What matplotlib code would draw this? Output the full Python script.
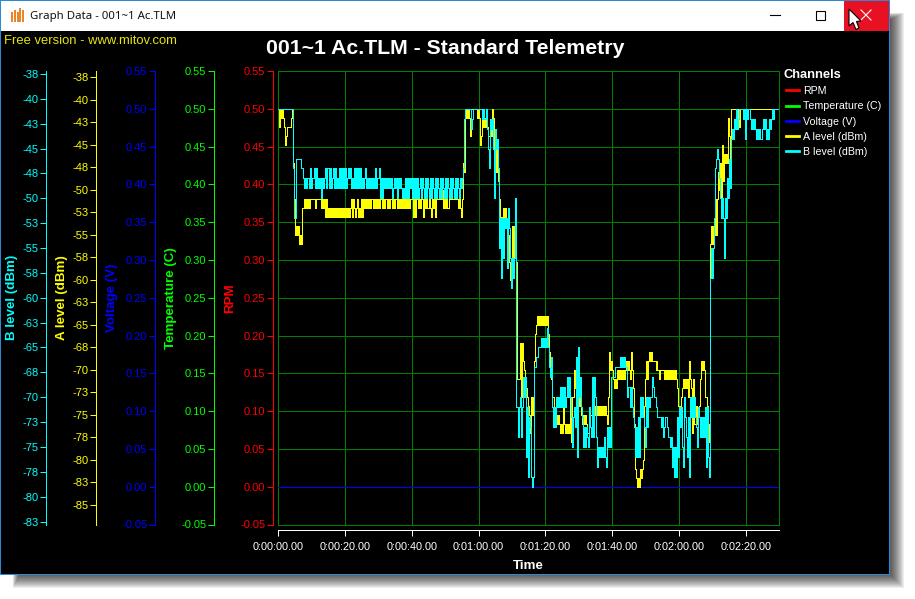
import numpy as np
import matplotlib
matplotlib.use("Agg")
import matplotlib.pyplot as plt
from matplotlib.lines import Line2D
from matplotlib.patches import Rectangle, Polygon

W, H = 915, 599
plt.rcParams['font.family'] = ['Liberation Sans', 'DejaVu Sans']
plt.rcParams['path.simplify'] = False

# ---- data -----------------------------------------------------------------
TICK_SECONDS = [0, 20, 40, 60, 80, 100, 120, 140]
TICK_TIMES = ['0:00:00.00', '0:00:20.00', '0:00:40.00', '0:01:00.00', '0:01:20.00',
              '0:01:40.00', '0:02:00.00', '0:02:20.00']
LEVEL_TICKS = [-0.05, 0.00, 0.05, 0.10, 0.15, 0.20, 0.25, 0.30, 0.35, 0.40, 0.45, 0.50, 0.55]
LEVEL_LABELS = ['-0.05', '0.00', '0.05', '0.10', '0.15', '0.20', '0.25', '0.30', '0.35',
                '0.40', '0.45', '0.50', '0.55']
A_TICKS = [-37.5, -40, -42.5, -45, -47.5, -50, -52.5, -55, -57.5, -60, -62.5, -65, -67.5,
           -70, -72.5, -75, -77.5, -80, -82.5, -85]
A_LABELS = ['-38', '-40', '-43', '-45', '-48', '-50', '-53', '-55', '-58', '-60', '-63',
            '-65', '-68', '-70', '-73', '-75', '-78', '-80', '-83', '-85']
B_TICKS = A_TICKS[:-1]
B_LABELS = A_LABELS[:-1]

FLAT_TIME = [0, 150]
RPM = [0, 0]
TEMPERATURE = [0, 0]
VOLTAGE = [0, 0]

# A level (dBm), one chunk per 15 s of recording
A_00_15 = [-41,-43,-41,-42,-41,-42,-43,-45,-44,-43,-43,-43,-43,-42,-41,-47,-51,-55,-54,-55,
           -54,-56,-55,-56,-52,-52,-51,-52,-51,-52,-51,-52,-51,-51,-51,-51,-51,-52,-51,-51,
           -51,-51,-51,-52,-51,-52,-51,-53,-51,-53]
A_15_30 = [-52,-53,-52,-53,-52,-53,-52,-53,-52,-53,-52,-53,-52,-53,-52,-53,-52,-53,-52,-53,
           -52,-53,-52,-51,-53,-51,-52,-53,-52,-51,-53,-52,-53,-51,-53,-51,-52,-51,-52,-51,
           -52,-51,-52,-51,-51,-52,-51,-52,-51,-52]
A_30_45 = [-51,-52,-51,-51,-52,-51,-52,-51,-51,-52,-51,-52,-51,-51,-52,-51,-52,-51,-51,-52,
           -51,-52,-51,-52,-51,-52,-51,-52,-51,-52,-51,-52,-51,-51,-51,-53,-51,-53,-51,-51,
           -52,-51,-52,-51,-51,-53,-51,-51,-52,-51,-52]
A_45_60 = [-52,-51,-52,-53,-51,-52,-51,-53,-51,-51,-51,-51,-51,-51,-50,-52,-51,-52,-51,-52,
           -52,-51,-51,-51,-51,-51,-51,-51,-51,-51,-52,-51,-52,-53,-51,-47,-48,-42,-41,-42,
           -41,-42,-44,-41,-41,-41,-41,-41,-41,-42,-41]
A_60_75 = [-42,-45,-44,-42,-43,-42,-43,-42,-43,-44,-44,-43,-44,-41,-42,-46,-45,-48,-45,-49,
           -51,-54,-53,-54,-52,-54,-52,-54,-58,-55,-58,-60,-60,-54,-58,-54,-57,-58,-71,-71,
           -71,-67,-73,-67,-69,-70,-71,-72,-73,-74]
A_75_90 = [-75,-77,-73,-75,-73,-69,-66,-65,-64,-65,-64,-65,-64,-65,-64,-65,-64,-65,-64,-66,
           -68,-70,-71,-73,-73,-75,-76,-75,-76,-75,-76,-77,-76,-77,-74,-76,-77,-76,-77,-76,
           -77,-73,-78,-73,-73,-70,-72,-70,-73,-69]
A_90_105 = [-74,-71,-75,-76,-75,-76,-75,-76,-77,-77,-76,-75,-75,-75,-73,-75,-74,-75,-74,-75,
            -74,-75,-74,-75,-74,-75,-74,-75,-76,-73,-68,-70,-69,-70,-71,-72,-71,-72,-70,-71,
            -70,-71,-70,-71,-70,-71,-70,-69,-70,-69]
A_105_120 = [-70,-71,-68,-70,-72,-76,-81,-82,-83,-82,-83,-81,-82,-81,-80,-74,-71,-69,-71,-69,
             -68,-69,-68,-69,-69,-69,-69,-70,-69,-70,-70,-71,-70,-70,-70,-70,-71,-70,-71,-70,
             -71,-70,-71,-70,-71,-70,-71,-70,-71,-72,-74]
A_120_135 = [-74,-74,-73,-72,-71,-72,-71,-72,-71,-73,-69,-71,-72,-77,-71,-76,-76,-74,-76,-75,
             -74,-71,-69,-70,-69,-70,-73,-73,-74,-76,-78,-56,-54,-56,-54,-55,-51,-55,-51,-48,
             -50,-47,-51,-45,-49,-46,-47,-46,-47,-42]
A_135_150 = [-44,-47,-41,-41,-41,-41,-41,-41,-43,-41,-43,-41,-41,-41,-41,-42,-41,-42,-41,-41,
             -41,-41,-41,-41,-41,-41,-41,-41,-41,-41,-41,-41,-41,-41,-41,-41,-41,-41,-41,-41,
             -41,-41,-41,-41,-41,-41,-41,-41,-41,-41]

# B level (dBm), one chunk per 15 s of recording
B_00_15 = [-41,-41,-41,-41,-41,-41,-41,-41,-41,-41,-41,-41,-41,-41,-41,-47,-52,-52,-46,-46,
           -46,-46,-46,-47,-47,-48,-49,-48,-49,-48,-48,-49,-47,-49,-48,-48,-47,-49,-47,-49,
           -48,-49,-48,-50,-48,-49,-48,-47,-49,-47]
B_15_30 = [-47,-49,-47,-49,-48,-47,-49,-47,-49,-48,-49,-47,-49,-47,-49,-47,-49,-47,-49,-48,
           -47,-48,-47,-49,-48,-49,-47,-49,-47,-49,-47,-49,-47,-49,-48,-49,-48,-47,-49,-48,
           -49,-48,-49,-48,-49,-48,-49,-47,-49,-48]
B_30_45 = [-48,-47,-50,-48,-50,-48,-49,-48,-49,-48,-49,-48,-49,-48,-50,-49,-48,-49,-48,-50,
           -48,-49,-48,-49,-50,-49,-50,-48,-50,-48,-50,-48,-49,-48,-50,-48,-50,-48,-50,-48,
           -50,-49,-48,-50,-48,-49,-50,-48,-50,-48]
B_45_60 = [-49,-50,-48,-50,-48,-49,-50,-48,-50,-48,-49,-50,-48,-50,-48,-49,-50,-48,-50,-48,
           -49,-50,-48,-50,-48,-49,-50,-48,-50,-48,-49,-50,-48,-49,-48,-47,-42,-41,-41,-41,
           -41,-41,-41,-43,-42,-41,-41,-41,-41,-41,-41]
B_60_75 = [-41,-41,-41,-42,-41,-42,-42,-41,-43,-45,-47,-42,-43,-42,-45,-50,-43,-45,-44,-47,
           -55,-52,-58,-52,-56,-52,-53,-52,-57,-51,-53,-56,-59,-56,-58,-56,-50,-71,-71,-74,
           -71,-70,-74,-71,-68,-70,-68,-76,-71,-78]
B_75_90 = [-72,-73,-78,-79,-78,-67,-67,-66,-66,-65,-65,-65,-64,-65,-64,-65,-64,-65,-63,-65,
           -67,-68,-66,-71,-73,-71,-73,-70,-71,-70,-71,-69,-71,-69,-71,-69,-71,-70,-68,-70,
           -68,-70,-72,-75,-72,-71,-73,-66,-76,-65]
B_90_105 = [-70,-68,-71,-72,-75,-73,-75,-73,-74,-75,-71,-73,-74,-68,-74,-68,-70,-74,-77,-75,
            -76,-75,-76,-75,-76,-74,-76,-77,-73,-75,-73,-75,-68,-68,-68,-68,-67,-67,-67,-67,
            -67,-66,-67,-66,-67,-66,-67,-67,-70,-69]
B_105_120 = [-69,-71,-69,-71,-72,-73,-76,-73,-76,-72,-76,-70,-72,-70,-72,-73,-75,-70,-73,-70,
             -71,-70,-70,-68,-69,-70,-70,-71,-72,-72,-72,-72,-72,-73,-72,-74,-73,-72,-72,-73,
             -74,-74,-75,-74,-77,-75,-78,-75,-78,-72,-76]
B_120_135 = [-71,-73,-71,-75,-77,-70,-72,-74,-76,-72,-78,-70,-72,-70,-72,-70,-72,-73,-75,-71,
             -72,-74,-72,-74,-72,-74,-71,-77,-71,-76,-78,-58,-55,-58,-55,-52,-47,-46,-45,-46,
             -48,-50,-52,-50,-52,-56,-50,-52,-48,-50]
B_135_150 = [-46,-49,-44,-43,-44,-42,-43,-41,-43,-42,-41,-41,-41,-41,-42,-41,-44,-41,-42,-41,
             -41,-42,-43,-42,-43,-42,-43,-44,-43,-44,-43,-44,-44,-43,-42,-43,-42,-44,-43,-44,
             -42,-43,-42,-41,-42,-41,-41,-41,-41,-41]

CHUNK_SECONDS = 15
A_CHUNKS = [A_00_15, A_15_30, A_30_45, A_45_60, A_60_75, A_75_90, A_90_105, A_105_120, A_120_135, A_135_150]
B_CHUNKS = [B_00_15, B_15_30, B_30_45, B_45_60, B_60_75, B_75_90, B_90_105, B_105_120, B_120_135, B_135_150]

CHANNELS = ['RPM', 'Temperature (C)', 'Voltage (V)', 'A level (dBm)', 'B level (dBm)']
RED, GREEN, BLUE, YELLOW, CYAN = '#ff0000', '#00ff00', '#0000ff', '#ffff00', '#00ffff'


def join_chunks(chunks):
    times, values = [], []
    for i, chunk in enumerate(chunks):
        times.extend(i * CHUNK_SECONDS + k * CHUNK_SECONDS / len(chunk) for k in range(len(chunk)))
        values.extend(chunk)
    return times, values


# ---- window ---------------------------------------------------------------
fig = plt.figure(figsize=(W / 100, H / 100), dpi=100, facecolor='white')
chrome = fig.add_axes([0, 0, 1, 1], zorder=-5)
chrome.set_xlim(0, W)
chrome.set_ylim(H, 0)
chrome.axis('off')
for e in range(15, 0, -1):
    chrome.add_patch(Rectangle((20 - e * .5, 20 - e * .5), 869 + e * 1.5, 553 + e * 1.5,
                               fc='black', ec='none', alpha=0.065))
chrome.add_patch(Rectangle((0, 0), 890, 574.5, fc='#2b8ad6', ec='none'))
chrome.add_patch(Rectangle((1, 1), 888, 30, fc='white', ec='none'))
chrome.add_patch(Rectangle((1, 31), 888, 542.5, fc='black', ec='none'))
chrome.add_patch(Rectangle((844, 1), 45, 30, fc='#e81123', ec='none'))
for x0, top in zip((11, 14, 16.7, 19.3, 22), (12, 10, 12, 7.5, 10)):
    chrome.add_patch(Rectangle((x0, top), 2, 22 - top, fc='#e8862a', ec='none'))
chrome.plot([770, 780], [15, 15], color='black', lw=0.8)
chrome.add_patch(Rectangle((815.5, 10.5), 9, 9, fc='none', ec='black', lw=0.8))
chrome.plot([861, 871], [10, 20], color='white', lw=0.8)
chrome.plot([861, 871], [20, 10], color='white', lw=0.8)
chrome.add_patch(Polygon([(849, 9), (849, 26), (853, 22.5), (856, 29.5), (859, 28), (856.5, 21.5), (861, 21)],
                         closed=True, fc='white', ec='black', lw=0.8, zorder=5))
fig.text(30 / W, 1 - 16 / H, 'Graph Data - 001~1 Ac.TLM', family='Noto Sans', fontsize=8.2, color='#111111',
         ha='left', va='center')
fig.text(4 / W, 1 - 41 / H, 'Free version - www.mitov.com', fontsize=9.35, color='#e6e610', ha='left', va='center')
fig.text(445 / W, 1 - 48 / H, '001~1 Ac.TLM - Standard Telemetry', fontsize=15.3, fontweight='bold',
         color='white', ha='center', va='center')

# ---- axes -----------------------------------------------------------------
PX = 0.72
L, R, T, B = 278.0, 779.4, 71.0, 524.5
frame = fig.add_axes([L / W, 1 - B / H, (R - L) / W, (B - T) / H], facecolor='none')
frame.set_xlim(0, 150)
frame.set_ylim(-0.05, 0.55)
frame.set_xticks(TICK_SECONDS)
frame.set_yticks(LEVEL_TICKS)
frame.grid(True, color='#008000', lw=1 * PX, antialiased=False)
frame.set_axisbelow(True)
frame.tick_params(left=False, bottom=False, labelleft=False, labelbottom=False)
for s in frame.spines.values():
    s.set_color('#008000')
    s.set_linewidth(1 * PX)
    s.set_antialiased(False)


def value_axis(color, outward, ylim, ticks, labels, title, label_x):
    a = frame.twinx()
    a.set_ylim(*ylim)
    a.yaxis.tick_left()
    a.yaxis.set_label_position('left')
    a.set_yticks(ticks)
    a.set_yticklabels(labels)
    a.tick_params(axis='y', colors=color, length=6 * PX, width=1 * PX, pad=2 * PX, labelsize=8)
    for tick in a.yaxis.get_major_ticks():
        tick.tick1line.set_antialiased(False)
    for name, s in a.spines.items():
        s.set_visible(name == 'left')
    a.spines['left'].set_position(('outward', outward * PX))
    a.spines['left'].set_color(color)
    a.spines['left'].set_linewidth(1 * PX)
    a.spines['left'].set_antialiased(False)
    a.set_ylabel(title, color=color, fontweight='bold', fontsize=9.6, va='center')
    a.yaxis.set_label_coords((label_x - L) / (R - L), 0.5)
    return a


level_lim = (-0.05, 0.55)
ax_b = value_axis(CYAN, 231.7, (-82.8, -37.2), B_TICKS, B_LABELS, CHANNELS[4], 12)
ax_a = value_axis(YELLOW, 181.7, (-87.2, -36.83), A_TICKS, A_LABELS, CHANNELS[3], 62)
ax_v = value_axis(BLUE, 122.7, level_lim, LEVEL_TICKS, LEVEL_LABELS, CHANNELS[2], 112)
ax_t = value_axis(GREEN, 63.7, level_lim, LEVEL_TICKS, LEVEL_LABELS, CHANNELS[1], 171)
ax_r = value_axis(RED, 4.7, level_lim, LEVEL_TICKS, LEVEL_LABELS, CHANNELS[0], 230)

ax_r.xaxis.set_visible(True)
ax_r.spines['bottom'].set_visible(True)
ax_r.spines['bottom'].set_position(('outward', 5.5 * PX))
ax_r.spines['bottom'].set_color('white')
ax_r.spines['bottom'].set_linewidth(1 * PX)
ax_r.xaxis.tick_bottom()
ax_r.set_xticks(TICK_SECONDS)
ax_r.set_xticklabels(TICK_TIMES)
ax_r.tick_params(axis='x', colors='white', length=6 * PX, width=1 * PX, pad=4, labelsize=7.8)
ax_r.set_xlabel('Time', color='white', fontweight='bold', fontsize=9.6, labelpad=6)

# ---- series ---------------------------------------------------------------
ax_r.plot(FLAT_TIME, RPM, color=RED, lw=1 * PX, antialiased=False)
ax_t.plot(FLAT_TIME, TEMPERATURE, color=GREEN, lw=1 * PX, antialiased=False)
ax_v.plot(FLAT_TIME, VOLTAGE, color=BLUE, lw=1 * PX, antialiased=False)
ta, va = join_chunks(A_CHUNKS)
tb, vb = join_chunks(B_CHUNKS)
ax_a.plot(ta, va, color=YELLOW, lw=1 * PX, drawstyle='steps-post', antialiased=False, solid_joinstyle='miter', snap=True)
ax_b.plot(tb, vb, color=CYAN, lw=1 * PX, drawstyle='steps-post', antialiased=False, solid_joinstyle='miter', snap=True)
ax_r.set_zorder(2)
ax_t.set_zorder(3)
ax_v.set_zorder(4)
ax_a.set_zorder(5)
ax_b.set_zorder(6)
for a in (ax_r, ax_t, ax_v, ax_a, ax_b):
    a.set_xlim(0, 150)

# ---- legend ---------------------------------------------------------------
handles = [Line2D([], [], color=c, lw=2.0) for c in (RED, GREEN, BLUE, YELLOW, CYAN)]
leg = fig.legend(handles, CHANNELS, title='Channels', loc='upper left',
                 bbox_to_anchor=(786 / W, 1 - 69 / H), frameon=False, fontsize=7.7,
                 labelcolor='white', handlelength=1.2, handletextpad=0.42, labelspacing=0.49,
                 borderpad=0, borderaxespad=0, alignment='left',
                 title_fontproperties={'weight': 'bold', 'size': 9.3, 'family': 'Liberation Sans'})
leg.get_title().set_color('white')
leg.get_title().set_position((-2, 0))

fig.savefig('out.png', dpi=100, facecolor='white')
